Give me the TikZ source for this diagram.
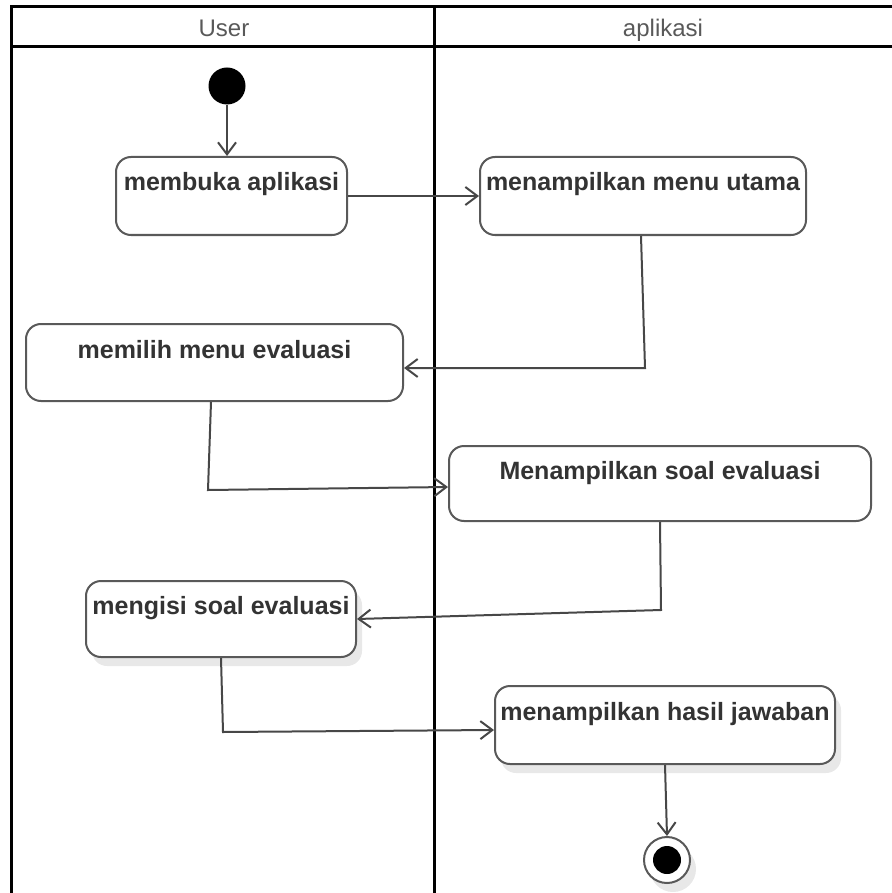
\documentclass[tikz,border=0pt]{standalone}
\usepackage{fontspec}
\setmainfont{Liberation Sans}
\usetikzlibrary{arrows.meta,shadows}

\tikzset{
  lane/.style={draw=black, line width=3pt},
  lanetitle/.style={text=black!65, font=\fontsize{24}{28}\selectfont, anchor=base},
  act/.style={draw=black!65, line width=2pt, rounded corners=15pt, fill=white,
    inner sep=0pt, text height=34pt, text=black!80,
    font=\bfseries\fontsize{25}{30}\selectfont},
  softshadow/.style={drop shadow={shadow xshift=6pt, shadow yshift=-9pt, fill=black!9, opacity=1}},
  flow/.style={draw=black!72, line width=2pt,
    -{Straight Barb[length=12pt, width=18pt, line width=2pt]}},
  startdot/.style={circle, fill=black, inner sep=0pt, minimum size=37pt},
  enddot/.style={circle, draw=black!65, line width=2pt, fill=white, inner sep=0pt, minimum size=46pt},
}

\begin{document}
\begin{tikzpicture}[x=1pt, y=-1pt]
  \useasboundingbox (0,0) rectangle (891,893);

  % swimlane frame
  \draw[lane] (895,7) -- (11,7) -- (11,897);
  \draw[lane] (11,47) -- (895,47);
  \draw[lane] (434,7) -- (434,897);
  \node[lanetitle] (tuser) at (224,37) {User};
  \node[lanetitle] (tapp) at (663,37) {aplikasi};

  % activities
  \node[startdot] (s) at (227,86) {};
  \node[act, minimum width=231pt, text depth=44pt] (n1) at (231.5,196) {membuka aplikasi};
  \node[act, minimum width=326pt, text depth=44pt] (n2) at (643,196) {menampilkan menu utama};
  \node[act, minimum width=377pt, text depth=43pt] (n3) at (214.5,362.5) {memilih menu evaluasi};
  \node[act, minimum width=422pt, text depth=42pt, text height=33pt] (n4) at (660,483.5) {Menampilkan soal evaluasi};
  \node[act, softshadow, minimum width=270pt, text depth=43pt, text height=33pt] (n5) at (221,619) {mengisi soal evaluasi};
  \node[act, softshadow, minimum width=340pt, text depth=44pt] (n6) at (665,725) {menampilkan hasil jawaban};
  \node[enddot, softshadow] (e) at (667,860) {};
  \fill[black] (e.center) circle (14pt);

  % bend points
  \coordinate (b1) at (645,368);
  \coordinate (b2) at (208,490);
  \coordinate (b3) at (661,610);
  \coordinate (b4) at (223,732);

  % control flow
  \draw[flow] (s.south) -- (s.south |- n1.north);
  \draw[flow] (n1.east) -- (n2.west);
  \draw[flow] ([xshift=-2pt]n2.south) -- (b1) -- (b1 -| n3.east);
  \draw[flow] ([xshift=-3.5pt]n3.south) -- (b2) -- ([yshift=-3.5pt]n4.west);
  \draw[flow] (n4.south) -- (b3) -- (n5.east);
  \draw[flow] (n5.south) -- (b4) -- ([yshift=-5pt]n6.west);
  \draw[flow] (n6.south) -- (e.north);
\end{tikzpicture}
\end{document}
